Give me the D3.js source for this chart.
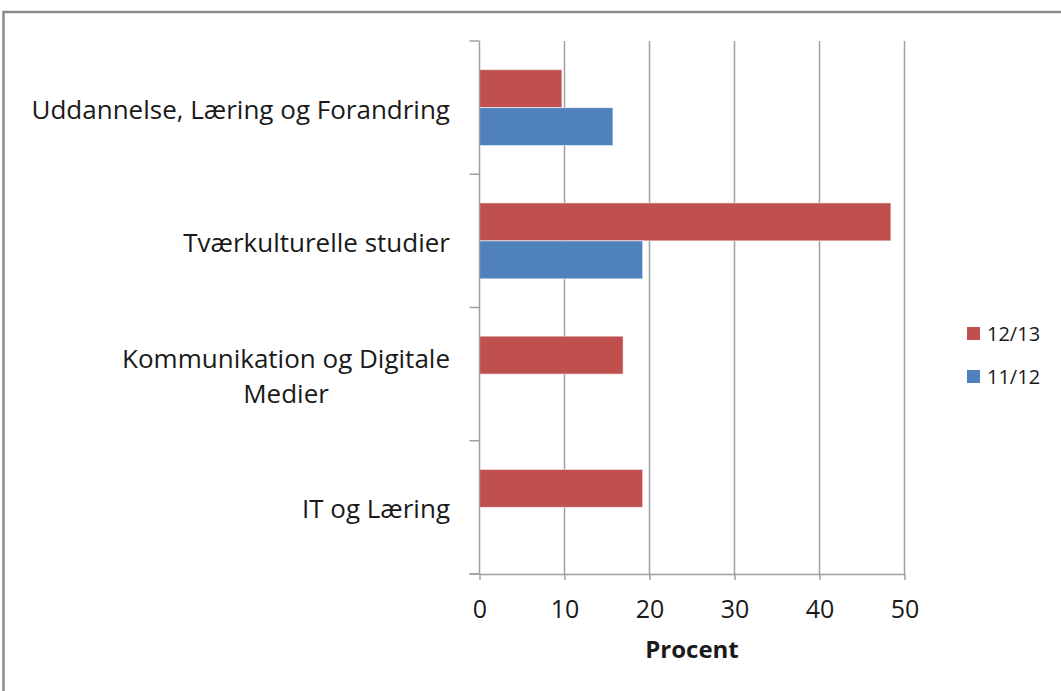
<!DOCTYPE html>
<html>
<head>
<meta charset="utf-8">
<script src="https://cdn.jsdelivr.net/npm/d3@7"></script>
<style>
  body { margin: 0; background: #fff; }
  svg { display: block; }
  text { font-family: "Open Sans", "Noto Sans", sans-serif; fill: #1a1a1a; }
</style>
</head>
<body>
<svg id="chart"></svg>
<script>
const categories = [
  ['Uddannelse, Læring og Forandring'],
  ['Tværkulturelle studier'],
  ['Kommunikation og Digitale', 'Medier'],
  ['IT og Læring']
];
const seriesNames = ['12/13', '11/12'];
const values1213 = [9.7, 48.4, 16.9, 19.2];
const values1112 = [15.7, 19.2, null, null];
const xTicks = [0, 10, 20, 30, 40, 50];
const colors = ['#C0504D', '#4F81BD'];

const width = 1061;
const height = 691;
const margin = { left: 479.5, right: 156.5, top: 41, bottom: 117 };

const svg = d3.select('#chart')
  .attr('width', width)
  .attr('height', height);

// outer frame (runs off right/bottom edge)
svg.append('rect')
  .attr('x', 3.5).attr('y', 12)
  .attr('width', width + 20).attr('height', height + 20)
  .attr('fill', 'none')
  .attr('stroke', '#8c8c8c')
  .attr('stroke-width', 2.5);

const x = d3.scaleLinear()
  .domain([0, 50])
  .range([margin.left, width - margin.right]);

const y = d3.scaleBand()
  .domain(d3.range(categories.length))
  .range([margin.top, height - margin.bottom])
  .paddingInner(0.43)
  .paddingOuter(0.215);

const ySub = d3.scaleBand()
  .domain(seriesNames)
  .range([0, y.bandwidth()]);

// vertical gridlines
svg.append('g')
  .selectAll('line')
  .data(xTicks.slice(1))
  .join('line')
  .attr('x1', (d) => x(d)).attr('x2', (d) => x(d))
  .attr('y1', margin.top).attr('y2', height - margin.bottom)
  .attr('stroke', '#a0a0a0')
  .attr('stroke-width', 1.5);

// bars
const rows = categories.map((c, i) => ({ i, vals: [values1213[i], values1112[i]] }));
const groups = svg.append('g')
  .selectAll('g')
  .data(rows)
  .join('g')
  .attr('transform', (d) => `translate(0,${y(d.i)})`);

groups.selectAll('rect')
  .data((d) => d.vals.map((v, k) => ({ v, k })).filter((e) => e.v != null))
  .join('rect')
  .attr('x', x(0))
  .attr('y', (e) => ySub(seriesNames[e.k]))
  .attr('width', (e) => x(e.v) - x(0))
  .attr('height', ySub.bandwidth())
  .attr('fill', (e) => colors[e.k])
  .attr('stroke', 'rgba(255,255,255,0.6)')
  .attr('stroke-width', 1);

// y axis line and category ticks
const yEdges = d3.range(categories.length + 1)
  .map((i) => margin.top + i * y.step());
svg.append('line')
  .attr('x1', x(0)).attr('x2', x(0))
  .attr('y1', margin.top).attr('y2', height - margin.bottom)
  .attr('stroke', '#a0a0a0').attr('stroke-width', 1.5);
svg.append('g')
  .selectAll('line')
  .data(yEdges)
  .join('line')
  .attr('x1', x(0) - 10).attr('x2', x(0))
  .attr('y1', (d) => d).attr('y2', (d) => d)
  .attr('stroke', '#a0a0a0').attr('stroke-width', 1.5);

// x axis
const xAxis = svg.append('g')
  .attr('transform', `translate(0,${height - margin.bottom})`)
  .call(d3.axisBottom(x).tickValues(xTicks).tickSize(6).tickSizeOuter(0).tickPadding(20));
xAxis.select('.domain').attr('stroke', '#a0a0a0').attr('stroke-width', 1.5);
xAxis.selectAll('.tick line').attr('stroke', '#a0a0a0').attr('stroke-width', 1.5);
xAxis.selectAll('.tick text')
  .attr('font-size', 25)
  .attr('font-family', '"Open Sans", sans-serif')
  .attr('fill', '#1a1a1a');
xAxis.append('line')
  .attr('x1', x(0) - 10).attr('x2', x(0))
  .attr('stroke', '#a0a0a0').attr('stroke-width', 1.5);

svg.append('text')
  .attr('x', (x(0) + x(50)) / 2)
  .attr('y', 650)
  .attr('dy', '0.35em')
  .attr('text-anchor', 'middle')
  .attr('font-size', 24)
  .attr('font-weight', 'bold')
  .text('Procent');

// category labels
const labelRight = 450;
const lineH = 35;
const labels = svg.append('g')
  .selectAll('text')
  .data(categories)
  .join('text')
  .attr('font-size', 26)
  .attr('text-anchor', 'middle');
labels.each(function (lines, i) {
  const t = d3.select(this);
  const cy = y(i) + y.bandwidth() / 2 + 2;
  const y0 = cy - (lines.length - 1) * lineH / 2;
  lines.forEach((ln, k) => {
    t.append('tspan').attr('y', y0 + k * lineH).attr('dy', '0.35em').text(ln);
  });
  let maxW = 0;
  t.selectAll('tspan').each(function () { maxW = Math.max(maxW, this.getComputedTextLength()); });
  t.selectAll('tspan').attr('x', labelRight - maxW / 2);
});

// legend
const legend = svg.append('g')
  .selectAll('g')
  .data(seriesNames)
  .join('g')
  .attr('transform', (d, i) => `translate(967,${327 + i * 43})`);
legend.append('rect')
  .attr('width', 13).attr('height', 13)
  .attr('fill', (d, i) => colors[i]);
legend.append('text')
  .attr('x', 20).attr('y', 7)
  .attr('dy', '0.35em')
  .attr('font-size', 20)
  .text((d) => d);
</script>
</body>
</html>
